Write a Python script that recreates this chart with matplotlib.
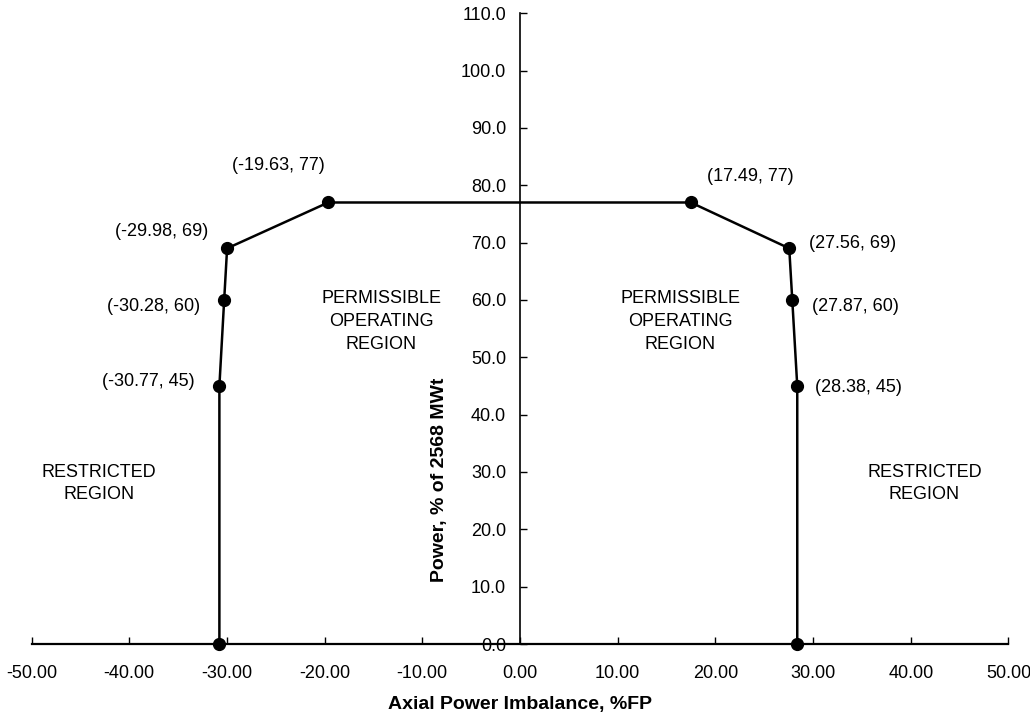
import matplotlib
matplotlib.use("Agg")
import matplotlib.pyplot as plt
from matplotlib.ticker import FormatStrFormatter, MultipleLocator

plt.rcParams['font.family'] = ['Liberation Sans', 'DejaVu Sans']

# pontos do limite da região de operação
imbalance = [-30.77, -30.77, -30.28, -29.98, -19.63, 17.49, 27.56, 27.87, 28.38, 28.38]
power = [0, 45, 60, 69, 77, 77, 69, 60, 45, 0]

# rótulos dos pontos (texto, x, y)
point_labels = ["(-30.77, 45)", "(-30.28, 60)", "(-29.98, 69)", "(-19.63, 77)",
                "(17.49, 77)", "(27.56, 69)", "(27.87, 60)", "(28.38, 45)"]
label_x = [-38.0, -37.5, -36.7, -24.7, 23.6, 34.0, 34.3, 34.6]
label_y = [45.8, 58.9, 71.9, 83.4, 81.5, 69.9, 58.9, 44.8]

regions = ["RESTRICTED\nREGION", "PERMISSIBLE\nOPERATING\nREGION",
           "PERMISSIBLE\nOPERATING\nREGION", "RESTRICTED\nREGION"]
region_x = [-43.1, -14.2, 16.4, 41.4]
region_y = [28.0, 56.3, 56.3, 28.0]

fig = plt.figure(figsize=(10.3, 7.17), dpi=100)
ax = fig.add_axes([0.0306, 0.1018, 0.9485, 0.8797])

ax.plot(imbalance, power, color='black', lw=1.8, marker='o', ms=8.5, zorder=3, clip_on=False)

for t, x, y in zip(point_labels, label_x, label_y):
    ax.text(x, y, t, ha='center', va='center', fontsize=13)

for t, x, y in zip(regions, region_x, region_y):
    ax.text(x, y, t, ha='center', va='center', fontsize=13, linespacing=1.45)

ax.set_xlim(-50, 50)
ax.set_ylim(0, 110)
ax.spines['left'].set_position(('data', 0))
ax.spines['bottom'].set_position(('data', 0))
ax.spines['top'].set_visible(False)
ax.spines['right'].set_visible(False)
ax.spines['left'].set_linewidth(1.2)
ax.spines['bottom'].set_linewidth(1.6)

ax.xaxis.set_major_locator(MultipleLocator(10))
ax.yaxis.set_major_locator(MultipleLocator(10))
ax.xaxis.set_major_formatter(FormatStrFormatter('%.2f'))
ax.yaxis.set_major_formatter(FormatStrFormatter('%.1f'))
ax.tick_params(axis='x', direction='in', length=5, width=1, pad=15, labelsize=13)
ax.tick_params(axis='y', direction='in', length=5, width=1, pad=10, labelsize=13)

ax.set_xlabel("Axial Power Imbalance, %FP", fontsize=14, fontweight='bold')
ax.xaxis.set_label_coords(0.5, -0.082)
ax.set_ylabel("Power, % of 2568 MWt", fontsize=14, fontweight='bold')
ax.yaxis.set_label_coords(0.426, 0.26)

fig.savefig("out.png", dpi=100)
